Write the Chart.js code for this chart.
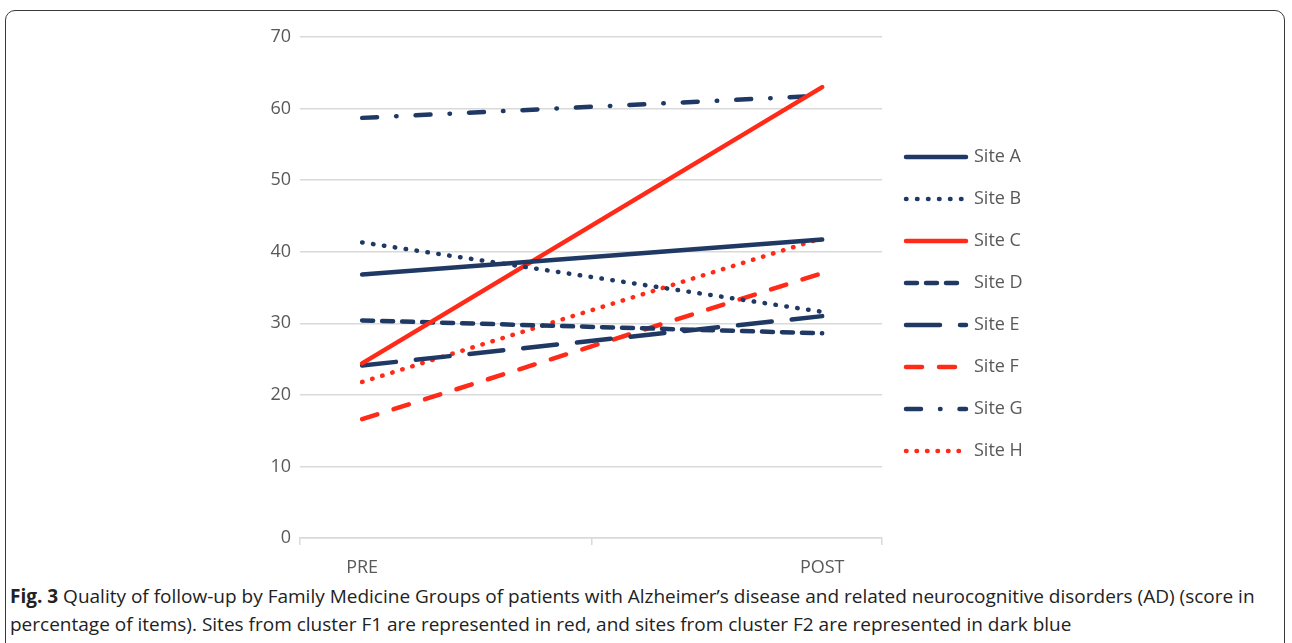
<!DOCTYPE html>
<html>
<head>
<meta charset="utf-8">
<script src="https://cdn.jsdelivr.net/npm/chart.js@4/dist/chart.umd.min.js"></script>
<style>
  html, body { margin: 0; padding: 0; background: #fff; }
  body { width: 1292px; height: 643px; position: relative; overflow: hidden; }
  .frame {
    position: absolute; left: 5px; top: 10px; width: 1280px; height: 680px;
    border: 1.5px solid #3a3a3a; border-radius: 10px; box-sizing: border-box;
  }
  #wrap { position: absolute; left: 0; top: 0; width: 1292px; height: 580px; }
  .caption {
    position: absolute; left: 10px; top: 582px; width: 1272px;
    font-family: "Open Sans", sans-serif; font-size: 19px; line-height: 28px; color: #222;
  }
  .caption b { font-weight: 700; }
</style>
</head>
<body>
<div class="frame"></div>
<div id="wrap"><canvas id="fig3"></canvas></div>
<div class="caption"><b>Fig. 3</b> Quality of follow-up by Family Medicine Groups of patients with Alzheimer’s disease and related neurocognitive disorders (AD) (score in percentage of items). Sites from cluster F1 are represented in red, and sites from cluster F2 are represented in dark blue</div>

<script>
(() => {
  'use strict'

  const periods = ['PRE', 'POST']
  const yTicks = [0, 10, 20, 30, 40, 50, 60, 70]

  // score (% of items) before and after, per site
  const siteA = [36.8, 41.7]
  const siteB = [41.3, 31.6]
  const siteC = [24.4, 63.0]
  const siteD = [30.4, 28.6]
  const siteE = [24.1, 31.0]
  const siteF = [16.6, 37.0]
  const siteG = [58.7, 61.8]
  const siteH = [21.8, 41.9]

  const navy = '#1f3864'
  const red = '#ff2a17'

  const line = (label, values, color, dash) => ({
    label,
    data: values.map((v, i) => ({ x: i, y: v })),
    borderColor: color,
    backgroundColor: 'transparent',
    borderWidth: 4.5,
    borderDash: dash,
    borderCapStyle: 'round',
    pointRadius: 0,
    pointHoverRadius: 0,
    tension: 0
  })

  const datasets = [
    line('Site A', siteA, navy, []),
    line('Site B', siteB, navy, [0.5, 10.5]),
    line('Site C', siteC, red, []),
    line('Site D', siteD, navy, [11, 9]),
    line('Site E', siteE, navy, [34, 20]),
    line('Site F', siteF, red, [16, 17]),
    line('Site G', siteG, navy, [15, 19, 0.5, 19]),
    line('Site H', siteH, red, [0.5, 10])
  ]

  const grey = '#d9d9d9'
  const textGrey = '#595959'
  const font = { family: '"Open Sans", sans-serif', size: 18 }

  // key on the right: a line sample then the site name, one row per dataset
  const siteKey = {
    id: 'siteKey',
    afterDraw(chart) {
      const { ctx, chartArea } = chart
      const x0 = chartArea.right + 24
      const sample = 60
      ctx.save()
      ctx.font = '18px "Open Sans", sans-serif'
      ctx.textBaseline = 'middle'
      chart.data.datasets.forEach((ds, i) => {
        const y = chartArea.top + 120 + i * 42
        ctx.strokeStyle = ds.borderColor
        ctx.lineWidth = ds.borderWidth
        ctx.lineCap = ds.borderCapStyle
        ctx.setLineDash(ds.borderDash)
        ctx.beginPath()
        ctx.moveTo(x0, y)
        ctx.lineTo(x0 + sample, y)
        ctx.stroke()
        ctx.setLineDash([])
        ctx.fillStyle = textGrey
        ctx.fillText(ds.label, x0 + sample + 8, y)
      })
      ctx.restore()
    }
  }

  // x runs from a bit left of PRE to a bit right of POST
  const xMin = -0.135
  const xMax = 1.13

  new Chart(document.getElementById('fig3'), {
    type: 'line',
    data: { datasets },
    plugins: [siteKey],
    options: {
      responsive: true,
      maintainAspectRatio: false,
      animation: false,
      layout: { padding: { top: 37, left: 250, right: 410, bottom: 0 } },
      scales: {
        x: {
          type: 'linear',
          min: xMin,
          max: xMax,
          afterBuildTicks: s => {
            s.ticks = [xMin, 0, 0.5, 1, xMax].map(v => ({ value: v }))
          },
          afterFit: s => { s.height = 42 },
          grid: {
            drawOnChartArea: false,
            tickLength: 7,
            lineWidth: 1.5,
            color: c => (c.tick && (c.tick.value === 0 || c.tick.value === 1)) ? 'transparent' : grey
          },
          border: { display: true, color: grey, width: 1.5 },
          ticks: {
            autoSkip: false,
            maxRotation: 0,
            padding: 12,
            color: textGrey,
            font,
            callback: v => (v === 0 ? periods[0] : v === 1 ? periods[1] : '')
          }
        },
        y: {
          min: 0,
          max: 70,
          afterBuildTicks: s => { s.ticks = yTicks.map(v => ({ value: v })) },
          afterFit: s => { s.width = 50 },
          grid: { color: grey, lineWidth: 1.5, drawTicks: false },
          border: { display: false },
          ticks: { padding: 9, color: textGrey, font }
        }
      },
      plugins: {
        tooltip: { enabled: false },
        legend: { display: false }
      }
    }
  })
})()
</script>
</body>
</html>
